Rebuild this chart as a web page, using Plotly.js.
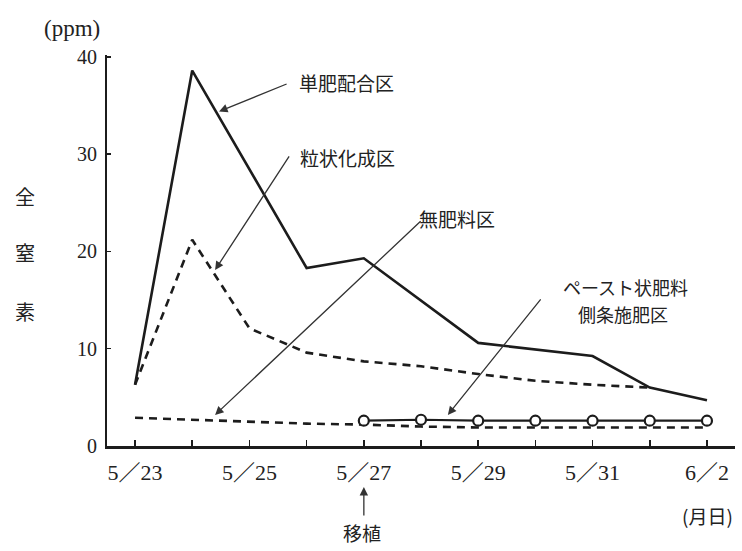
<!DOCTYPE html>
<html>
<head>
<meta charset="utf-8">
<script src="https://cdn.plot.ly/plotly-3.0.1.min.js"></script>
<style>html,body{margin:0;padding:0;background:#fff;}#chart{width:742px;height:551px;}</style>
</head>
<body>
<div id="chart"></div>
<script>
// Day index 0 = 5/23 ... 10 = 6/2
const dayIndex = [0,1,2,3,4,5,6,7,8,9,10];
const tickText = ['5／23','','5／25','','5／27','','5／29','','5／31','','6／2'];
const yTicks = [0,10,20,30,40];

// 単肥配合区 (solid)
const tanpiX = [0,1,3,4,6,8,9,10];
const tanpiY = [6.3,38.6,18.3,19.3,10.6,9.25,6.0,4.7];

// 粒状化成区 (dashed)
const ryujoX = [0,1,2,3,4,5,6,7,8,9];
const ryujoY = [6.3,21.2,12.1,9.6,8.7,8.2,7.4,6.7,6.3,6.0];

// 無肥料区 (dashed, low)
const muhiX = [0,1,2,3,4,5,6,7,8,9,10];
const muhiY = [2.9,2.7,2.5,2.3,2.2,2.0,1.9,1.9,1.9,1.9,1.9];

// ペースト状肥料側条施肥区 (solid + open circles)
const pasteX = [4,5,6,7,8,9,10];
const pasteY = [2.6,2.7,2.6,2.6,2.6,2.6,2.6];

const ink = '#1c1c1c';
const jp = '"Noto Sans CJK JP", sans-serif';
const serif = '"Liberation Serif", "Noto Sans CJK JP", serif';

const traces = [
  {x: tanpiX, y: tanpiY, mode: 'lines', line: {color: ink, width: 2.6}, hoverinfo: 'skip'},
  {x: ryujoX, y: ryujoY, mode: 'lines', line: {color: ink, width: 2.6, dash: '8px,6px'}, hoverinfo: 'skip'},
  {x: muhiX, y: muhiY, mode: 'lines', line: {color: ink, width: 2.6, dash: '8px,6px'}, hoverinfo: 'skip'},
  {x: pasteX, y: pasteY, mode: 'lines+markers', line: {color: ink, width: 2.2},
   marker: {symbol: 'circle', size: 10, color: '#fff', line: {color: ink, width: 2.2}}, hoverinfo: 'skip'}
];

function txt(x, y, text, size, font) {
  return {x: x, y: y, xref: 'x', yref: 'y', text: text, showarrow: false,
          font: {family: font || jp, size: size || 19, color: '#222'}};
}
function ptxt(x, y, text, size, font) {
  return {x: x, y: y, xref: 'paper', yref: 'paper', text: text, showarrow: false,
          xanchor: 'center', yanchor: 'middle',
          font: {family: font || jp, size: size || 19, color: '#222'}};
}
function arr(x, y, ax, ay) {
  return {x: x, y: y, xref: 'x', yref: 'y', text: '', showarrow: true, ax: ax, ay: ay,
          arrowhead: 2, arrowsize: 1.3, arrowwidth: 1.3, arrowcolor: '#333', standoff: 0};
}

const annotations = [
  txt(3.69, 37.4, '単肥配合区'),
  txt(3.71, 29.7, '粒状化成区'),
  txt(5.63, 23.4, '無肥料区'),
  txt(8.57, 16.3, 'ペースト状肥料', 18),
  txt(8.53, 13.6, '側条施肥区', 18),
  ptxt(-0.0557, 1.069, '(ppm)', 23, serif),
  ptxt(-0.1306, 0.637, '全', 20),
  ptxt(-0.1306, 0.496, '窒', 20),
  ptxt(-0.1306, 0.343, '素', 20),
  ptxt(0.406, -0.2225, '移植', 19),
  ptxt(0.957, -0.179, '(月日)', 19),
  arr(1.47, 34.4, 69, -28),
  arr(1.40, 18.1, 75, -115),
  arr(1.40, 3.2, 207, -195),
  arr(5.47, 3.2, 94, -117),
  {x: 0.409, y: -0.105, xref: 'paper', yref: 'paper', text: '', showarrow: true, ax: 0, ay: 30,
   arrowhead: 2, arrowsize: 1.3, arrowwidth: 1.3, arrowcolor: '#333', standoff: 0}
];

const layout = {
  width: 742, height: 551,
  margin: {l: 107, r: 7, t: 55, b: 105},
  paper_bgcolor: '#fff', plot_bgcolor: '#fff',
  showlegend: false,
  xaxis: {
    range: [-0.49, 10.49], tickmode: 'array', tickvals: dayIndex, ticktext: tickText,
    ticks: 'inside', ticklen: 6, tickwidth: 1.5, tickcolor: ink,
    showline: true, linecolor: ink, linewidth: 2.5, showgrid: false, zeroline: false,
    tickfont: {family: serif, size: 22, color: '#222'}, ticklabelstandoff: 5
  },
  yaxis: {
    range: [0, 40.2], tickmode: 'array', tickvals: yTicks,
    ticks: 'inside', ticklen: 4, tickwidth: 1.5, tickcolor: ink,
    showline: true, linecolor: ink, linewidth: 2, showgrid: false, zeroline: false,
    tickfont: {family: serif, size: 20, color: '#222'}, ticklabelstandoff: 4
  },
  annotations: annotations
};

Plotly.newPlot('chart', traces, layout, {staticPlot: true, displayModeBar: false});
</script>
</body>
</html>
